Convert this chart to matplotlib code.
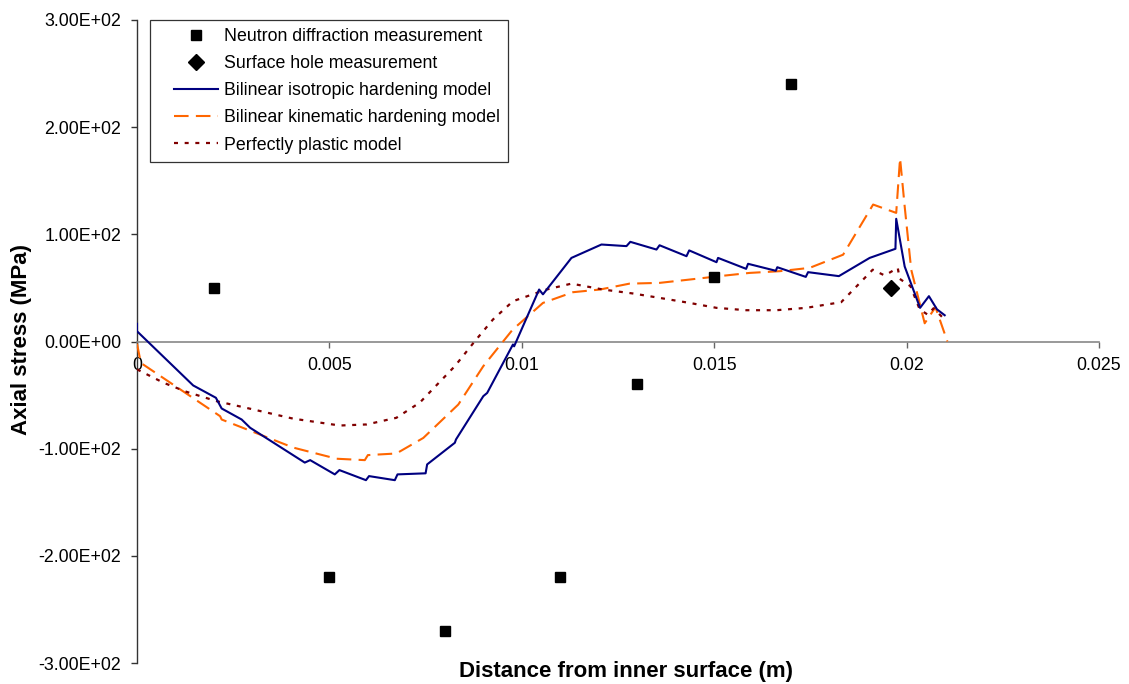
import matplotlib
matplotlib.use("Agg")
import matplotlib.pyplot as plt
from matplotlib.lines import Line2D
from matplotlib.legend_handler import HandlerLine2D

plt.rcParams['font.family'] = ['Liberation Sans', 'DejaVu Sans']

# Measurements
neutron_x = [0.002, 0.005, 0.008, 0.011, 0.013, 0.015, 0.017]
neutron_y = [50, -220, -270, -220, -40, 60, 240]
hole_x = [0.0196]
hole_y = [50]

# Bilinear isotropic hardening model
iso_x = [0.0, 0.0, 0.00146, 0.00205, 0.0022, 0.00272, 0.00294, 0.00436, 0.0045,
         0.00514, 0.00526, 0.00595, 0.00603, 0.0067, 0.00677, 0.0075, 0.00754,
         0.00826, 0.00829, 0.009, 0.0091, 0.00977, 0.0098, 0.01045, 0.01055,
         0.01129, 0.01207, 0.01272, 0.01282, 0.0135, 0.01358, 0.01428, 0.01435,
         0.01506, 0.0151, 0.01583, 0.01588, 0.0166, 0.01664, 0.01738, 0.01744,
         0.01824, 0.01904, 0.01971, 0.01973, 0.01995, 0.02035, 0.02058, 0.02079,
         0.02099]
iso_y = [16.5, 9.6, -41, -52.5, -62.5, -72.8, -80.5, -113, -110.7,
         -124, -120, -129.4, -125.6, -129.4, -124, -123, -114.7,
         -94.5, -91.4, -51, -48, -2.8, -4.5, 48.5, 44,
         78, 90.5, 89, 93, 85.8, 89.8, 79.6, 85,
         74, 78, 67.8, 72.5, 66, 69.3, 60.3, 64.7,
         61, 78, 86.5, 114.5, 70, 31.4, 42.3, 30,
         24.5]

# Bilinear kinematic hardening model
kin_x = [0.0, 0.0001, 0.00216, 0.0022, 0.00406, 0.00432, 0.00519, 0.00592, 0.006,
         0.00674, 0.00744, 0.00835, 0.009, 0.00976, 0.01055, 0.01133, 0.01203,
         0.0128, 0.01358, 0.01436, 0.01514, 0.01592, 0.0167, 0.01748, 0.01835,
         0.01913, 0.01973, 0.01983, 0.01995, 0.02012, 0.02047, 0.02075, 0.02106]
kin_y = [-2, -20, -69.7, -72.8, -99, -101.4, -109.4, -110.7, -106,
         -104.5, -90, -58.8, -23, 11, 36, 46, 48.5,
         54, 54.7, 57.8, 61, 64, 65.6, 68.7, 81,
         127.8, 120, 171, 126, 67, 17, 32, 0]

# Perfectly plastic model
pp_x = [0.0, 0.00069, 0.00129, 0.00207, 0.00285, 0.00406, 0.00527, 0.00597,
        0.00674, 0.00735, 0.00826, 0.00878, 0.00925, 0.00977, 0.01064, 0.01129,
        0.01211, 0.01289, 0.01358, 0.01436, 0.01506, 0.01583, 0.01662, 0.01739,
        0.0183, 0.01912, 0.01943, 0.01977, 0.01982, 0.0201, 0.02034, 0.02055,
        0.0207, 0.02103]
pp_y = [-26, -38.5, -47, -55.7, -62, -72, -78.4, -77.4,
        -71.2, -57, -23, 0.3, 20.5, 37.6, 48.5, 54,
        48.5, 44.8, 40.7, 36, 31.4, 29.2, 29.2, 31.4,
        36.7, 67, 61.6, 68.7, 58.5, 51.6, 30, 25,
        31, 19]

x_ticks = [0, 0.005, 0.01, 0.015, 0.02, 0.025]
x_tick_labels = ['0', '0.005', '0.01', '0.015', '0.02', '0.025']
y_ticks = [-300, -200, -100, 0, 100, 200, 300]
y_tick_labels = ['-3.00E+02', '-2.00E+02', '-1.00E+02', '0.00E+00',
                 '1.00E+02', '2.00E+02', '3.00E+02']

TICK_FS = 12.8
LEGEND_FS = 12.8
TITLE_FS = 16


class ShiftedLineHandler(HandlerLine2D):
    """Line/marker legend handler drawn with an extra left indent."""

    def __init__(self, shift, **kwargs):
        super().__init__(**kwargs)
        self.shift = shift

    def create_artists(self, legend, orig_handle, xdescent, ydescent,
                       width, height, fontsize, trans):
        return super().create_artists(legend, orig_handle,
                                      xdescent - self.shift * fontsize,
                                      ydescent, width, height, fontsize, trans)


fig = plt.figure(figsize=(11.29, 6.84), dpi=100)
ax = fig.add_axes([137 / 1129, 1 - 663 / 684, (1099 - 137) / 1129, (663 - 20) / 684])

ax.plot(neutron_x, neutron_y, linestyle='none', marker='s', markersize=7,
        color='black', label='Neutron diffraction measurement', zorder=5)
ax.plot(hole_x, hole_y, linestyle='none', marker='D', markersize=8,
        color='black', label='Surface hole measurement', zorder=5)
ax.plot(iso_x, iso_y, color='#000080', lw=1.5,
        label='Bilinear isotropic hardening model', zorder=4)
ax.plot(kin_x, kin_y, color='#FF6600', lw=1.5, dashes=(7, 3.5),
        label='Bilinear kinematic hardening model', zorder=3)
ax.plot(pp_x, pp_y, color='#800000', lw=1.6, dashes=(1.8, 3),
        label='Perfectly plastic model', zorder=3)

ax.set_xlim(0, 0.025)
ax.set_ylim(-300, 300)
ax.set_xticks(x_ticks)
ax.set_xticklabels(x_tick_labels)
ax.set_yticks(y_ticks)
ax.set_yticklabels(y_tick_labels)

ax.spines['top'].set_visible(False)
ax.spines['right'].set_visible(False)
ax.spines['bottom'].set_position(('data', 0))
ax.spines['bottom'].set_color('#888888')
ax.spines['bottom'].set_linewidth(1.2)
ax.spines['left'].set_color('#333333')
ax.spines['left'].set_linewidth(1.0)

ax.tick_params(axis='x', direction='out', length=4.5, width=1, color='#666666',
               labelsize=TICK_FS, pad=7)
ax.tick_params(axis='y', direction='out', length=4.5, width=1, color='#333333',
               labelsize=TICK_FS, pad=7)

fig.text(626 / 1129, 1 - 672 / 684, 'Distance from inner surface (m)',
         ha='center', va='center', fontsize=TITLE_FS, fontweight='bold')
fig.text(22 / 1129, 1 - 340 / 684, 'Axial stress (MPa)', rotation=90,
         ha='center', va='center', fontsize=TITLE_FS, fontweight='bold')

leg = ax.legend(loc='upper left', bbox_to_anchor=((150 - 137) / 962, 1.0),
                borderaxespad=0, fontsize=LEGEND_FS, frameon=True, fancybox=False,
                handlelength=2.5, handletextpad=1.2, labelspacing=0.57,
                borderpad=0.45,
                handler_map={Line2D: ShiftedLineHandler(0.9)})
leg.get_frame().set_edgecolor('#333333')
leg.get_frame().set_linewidth(0.9)
leg.get_frame().set_alpha(1)

fig.savefig('out.png', dpi=100)
